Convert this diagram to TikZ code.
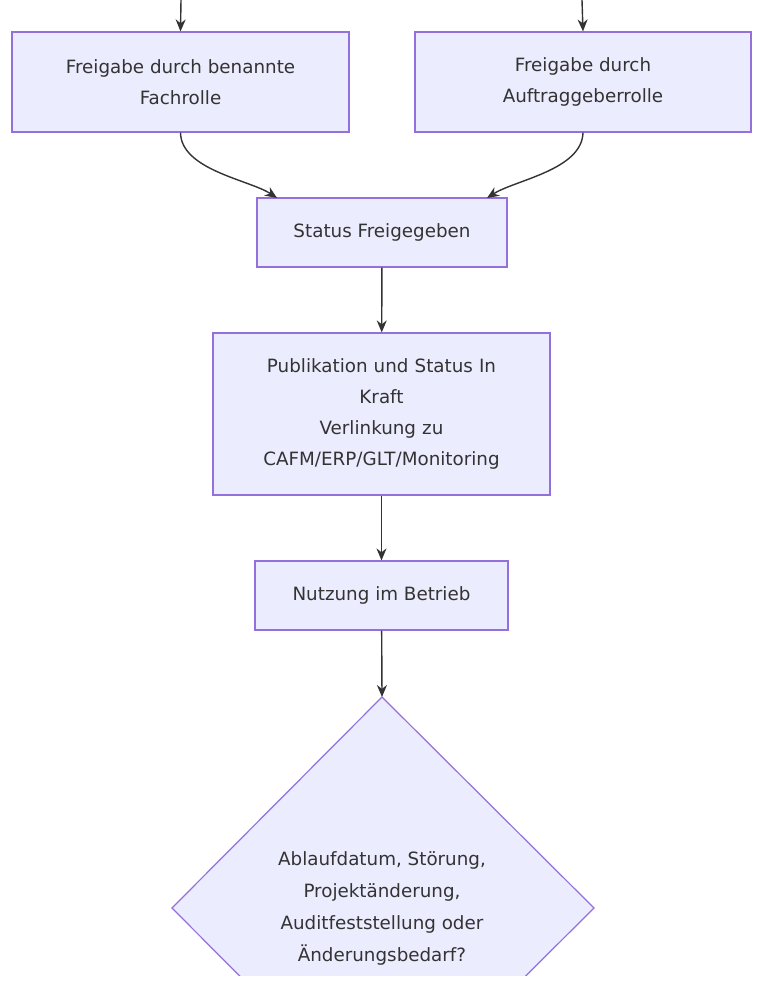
\documentclass[tikz,border=0pt]{standalone}
\usepackage{fontspec}
\setmainfont{DejaVu Sans}
\usetikzlibrary{arrows.meta}
\definecolor{nfill}{HTML}{ECECFF}
\definecolor{nstroke}{HTML}{9370DB}
\definecolor{ntext}{HTML}{333333}
\tikzset{
  box/.style={draw=nstroke,fill=nfill,line width=1.2pt,text=ntext,align=center,inner sep=0pt,font=\fontsize{18.3}{31}\selectfont},
  conn/.style={draw=ntext,line width=1.4pt,-{Stealth[length=12pt,width=10pt]}}
}
\begin{document}
\begin{tikzpicture}[x=1pt,y=-1pt]
\useasboundingbox[fill=white] (0,0) rectangle (769,999);
\node[box,minimum width=337pt,minimum height=100pt] (a) at (180.5,82) {Freigabe durch benannte\\Fachrolle};
\node[box,minimum width=336pt,minimum height=100pt] (b) at (583,82) {Freigabe durch\\Auftraggeberrolle};
\node[box,minimum width=250pt,minimum height=69pt] (s) at (382,232.5) {Status Freigegeben};
\node[box,minimum width=337pt,minimum height=162pt,text width=320pt] (p) at (381.5,414) {Publikation und Status In\\Kraft\\Verlinkung zu\\CAFM/ERP/GLT/Monitoring};
\node[box,minimum width=253pt,minimum height=69pt] (n) at (381.5,595.5) {Nutzung im Betrieb};
\coordinate (ta) at (181,0);
\coordinate (tb) at (582,0);
\coordinate (dtop) at (382,697);
\draw[conn] (ta) -- (a.north);
\draw[conn] (tb) -- (b.north);
\draw[conn] (a.south) .. controls (181,170) and (250,180) .. (277,198);
\draw[conn] (b.south) .. controls (582,170) and (515,180) .. (487,198);
\draw[conn] (s) -- (p);
\draw[conn] (p) -- (n);
\draw[conn] (n) -- (dtop);
\begin{scope}
\clip (0,0) rectangle (769,975);
\draw[draw=nstroke,fill=nfill,line width=1.2pt] (dtop) -- (594,908) -- (382,1119) -- (172,908) -- cycle;
\end{scope}
\node[text=ntext,align=center,font=\fontsize{18.3}{32}\selectfont] (d) at (382,908) {Ablaufdatum, Störung,\\Projektänderung,\\Auditfeststellung oder\\Änderungsbedarf?};
\end{tikzpicture}
\end{document}
